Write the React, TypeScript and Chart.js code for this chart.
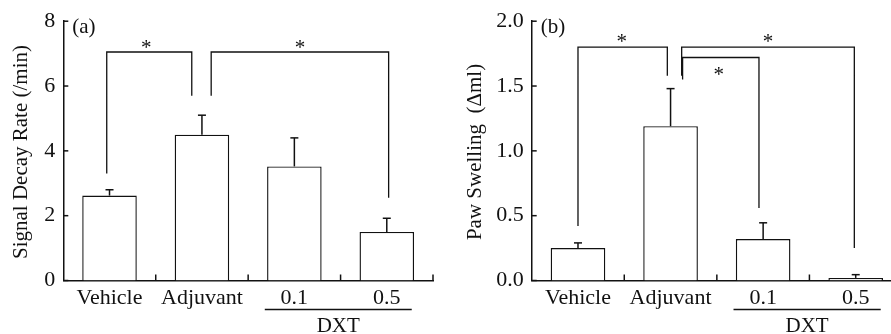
import React, { useEffect, useRef } from "react";
import { Chart, registerables } from "chart.js";

Chart.register(...registerables);

// ---------- data ----------
const categories = ["Vehicle", "Adjuvant", "0.1", "0.5"];

const decayRate = [2.62, 4.5, 3.52, 1.5];
const decayRateSem = [0.18, 0.6, 0.88, 0.42];
const decayTicks = [0, 2, 4, 6, 8];

const pawSwelling = [0.25, 1.19, 0.32, 0.02];
const pawSwellingSem = [0.04, 0.29, 0.125, 0.025];
const swellingTicks = [0, 0.5, 1.0, 1.5, 2.0];

const groupLabel = "DXT";
const groupFrom = 2;
const groupTo = 3;

// significance brackets (values in axis units)
const bracketsA = [
  { from: 0, to: 1, y: 7.05, fromEnd: 3.3, toEnd: 5.7 },
  { from: 1, to: 3, y: 7.05, fromEnd: 5.7, toEnd: 2.55 },
];
const bracketsB = [
  { from: 0, to: 1, y: 1.8, fromEnd: 0.42, toEnd: 1.58 },
  { from: 1, to: 3, y: 1.8, fromEnd: 1.58, toEnd: 0.25 },
  { from: 1, to: 2, y: 1.72, fromEnd: 1.55, toEnd: 0.56 },
];

// ---------- style ----------
const FONT = "'Liberation Serif', 'Times New Roman', serif";
const INK = "#111";
const FS = 21;

const annotPlugin = {
  id: "annot",
  afterDraw(chart: any, _args: any, opts: any) {
    const { ctx, chartArea } = chart;
    const xs = chart.scales.x;
    const ys = chart.scales.y;
    const meta = chart.getDatasetMeta(0);
    const values: number[] = chart.data.datasets[0].data;
    const catW = xs.getPixelForValue(1) - xs.getPixelForValue(0);
    const line = (x1: number, y1: number, x2: number, y2: number) => {
      ctx.beginPath();
      ctx.moveTo(x1, y1);
      ctx.lineTo(x2, y2);
      ctx.stroke();
    };
    ctx.save();
    ctx.strokeStyle = INK;
    ctx.fillStyle = INK;
    ctx.lineWidth = 1.5;

    // inward y ticks
    (opts.yTicks as number[]).forEach((v) => {
      const py = ys.getPixelForValue(v);
      line(chartArea.left, py, chartArea.left + 5, py);
    });
    // inward x ticks at category boundaries
    const n = values.length;
    for (let i = 0; i < n; i++) {
      const px = i < n - 1 ? (xs.getPixelForValue(i) + xs.getPixelForValue(i + 1)) / 2 : chartArea.right;
      line(px, chartArea.bottom, px, chartArea.bottom - 6);
    }
    // error bars
    (opts.sem as number[]).forEach((s, i) => {
      const bar = meta.data[i];
      const cx = bar.x;
      const top = ys.getPixelForValue(values[i]);
      const et = ys.getPixelForValue(values[i] + s);
      line(cx, top, cx, et);
      line(cx - 4, et, cx + 4, et);
    });

    // brackets
    ctx.lineWidth = 1.3;
    ctx.font = `${FS}px ${FONT}`;
    ctx.textAlign = "center";
    ctx.textBaseline = "alphabetic";
    (opts.brackets as any[]).forEach((b, k) => {
      const st = opts.bracketStyle[k];
      const x1 = xs.getPixelForValue(b.from) + st.fromShift * catW;
      const x2 = xs.getPixelForValue(b.to) + st.toShift * catW;
      const yl = ys.getPixelForValue(b.y);
      ctx.beginPath();
      ctx.moveTo(x1, ys.getPixelForValue(b.fromEnd));
      ctx.lineTo(x1, yl);
      ctx.lineTo(x2, yl);
      ctx.lineTo(x2, ys.getPixelForValue(b.toEnd));
      ctx.stroke();
      ctx.fillText("*", (x1 + x2) / 2 + st.starDx, yl + st.starDy + 9.8);
    });

    // panel label
    ctx.textAlign = "left";
    ctx.textBaseline = "middle";
    ctx.fillText(opts.panel, chartArea.left + opts.panelDx, chartArea.top + 6);

    // y title
    ctx.save();
    ctx.translate(opts.titleX, opts.titleY);
    ctx.rotate(-Math.PI / 2);
    ctx.textAlign = "center";
    ctx.textBaseline = "middle";
    ctx.fillText(opts.title, 0, 0);
    ctx.restore();

    // group line + label
    ctx.lineWidth = 1.3;
    const gx1 = xs.getPixelForValue(groupFrom) - 0.32 * catW;
    const gx2 = xs.getPixelForValue(groupTo) + 0.27 * catW;
    const gy = chartArea.bottom + 29;
    line(gx1, gy, gx2, gy);
    ctx.textAlign = "center";
    ctx.textBaseline = "alphabetic";
    ctx.fillText(groupLabel, (gx1 + gx2) / 2, gy + 22);

    ctx.restore();
  },
};

type PanelProps = {
  values: number[];
  sem: number[];
  ticks: number[];
  max: number;
  step: number;
  decimals: number;
  left: number;
  width: number;
  plotLeft: number;
  plotRight: number;
  brackets: any[];
  bracketStyle: any[];
  panel: string;
  title: string;
  titleX: number;
  titleY: number;
};

const H = 334;
const PLOT_TOP = 20;
const PLOT_BOTTOM = 280.5;

function Panel(p: PanelProps) {
  const ref = useRef<HTMLCanvasElement | null>(null);
  useEffect(() => {
    if (!ref.current) return;
    const chart = new Chart(ref.current, {
      type: "bar",
      data: {
        labels: categories,
        datasets: [
          {
            data: p.values,
            backgroundColor: "#fff",
            borderColor: INK,
            borderWidth: 1.4,
            categoryPercentage: 1,
            barPercentage: 0.59,
          },
        ],
      },
      plugins: [annotPlugin as any],
      options: {
        responsive: false,
        animation: false,
        events: [],
        layout: { padding: { top: PLOT_TOP, right: p.width - p.plotRight, left: 0, bottom: 0 } },
        plugins: {
          legend: { display: false },
          tooltip: { enabled: false },
          annot: {
            sem: p.sem,
            yTicks: p.ticks,
            brackets: p.brackets,
            bracketStyle: p.bracketStyle,
            panel: p.panel,
            panelDx: 9,
            title: p.title,
            titleX: p.titleX,
            titleY: p.titleY,
          },
        } as any,
        scales: {
          x: {
            type: "category",
            offset: true,
            grid: { display: false, drawTicks: false },
            border: { display: true, color: INK, width: 1.5 },
            ticks: { color: INK, font: { family: FONT, size: 22 }, padding: 5, maxRotation: 0, autoSkip: false },
            afterFit: (s: any) => {
              s.height = H - PLOT_BOTTOM;
            },
          },
          y: {
            min: 0,
            max: p.max,
            grid: { display: false, drawTicks: false },
            border: { display: true, color: INK, width: 1.5 },
            ticks: {
              stepSize: p.step,
              color: INK,
              padding: 8,
              font: { family: FONT, size: 22 },
              callback: (v: any) => Number(v).toFixed(p.decimals),
            },
            afterFit: (s: any) => {
              s.width = p.plotLeft;
            },
          },
        },
      },
    });
    return () => chart.destroy();
  }, []);
  return (
    <canvas
      ref={ref}
      width={p.width}
      height={H}
      style={{ position: "absolute", left: p.left, top: 0, width: p.width, height: H }}
    />
  );
}

export default function App() {
  return (
    <div
      style={{
        position: "fixed",
        left: 0,
        top: 0,
        width: 891,
        height: H,
        overflow: "hidden",
        background: "#fff",
      }}
    >
      <Panel
        values={decayRate}
        sem={decayRateSem}
        ticks={decayTicks}
        max={8}
        step={2}
        decimals={0}
        left={0}
        width={460}
        plotLeft={63.3}
        plotRight={433}
        brackets={bracketsA}
        bracketStyle={[
          { fromShift: -0.03, toShift: -0.11, starDx: -3, starDy: -8 },
          { fromShift: 0.1, toShift: 0.02, starDx: 0, starDy: -8 },
        ]}
        panel="(a)"
        title="Signal Decay Rate (/min)"
        titleX={21}
        titleY={152}
      />
      <Panel
        values={pawSwelling}
        sem={pawSwellingSem}
        ticks={swellingTicks}
        max={2}
        step={0.5}
        decimals={1}
        left={440}
        width={500}
        plotLeft={91.7}
        plotRight={462}
        brackets={bracketsB}
        bracketStyle={[
          { fromShift: 0, toShift: -0.035, starDx: -1, starDy: -9 },
          { fromShift: 0.12, toShift: -0.015, starDx: 0, starDy: -9 },
          { fromShift: 0.13, toShift: -0.045, starDx: -2, starDy: 14 },
        ]}
        panel="(b)"
        title="Paw Swelling  (Δml)"
        titleX={35}
        titleY={152}
      />
    </div>
  );
}
